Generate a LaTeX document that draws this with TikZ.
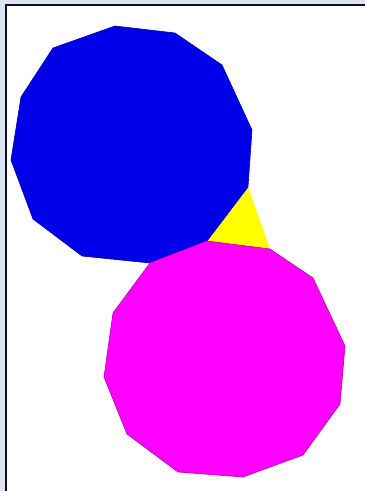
\documentclass[tikz,border=0pt]{standalone}
\usepackage{tikz}
\definecolor{frameBg}{HTML}{DCE4EF}
\definecolor{frameLine}{HTML}{110C2A}
\definecolor{dodBlue}{RGB}{0,0,232}
\definecolor{dodPink}{RGB}{255,0,255}
\definecolor{triYellow}{RGB}{255,255,0}

\begin{document}
\begin{tikzpicture}[
  x=1pt,y=-1pt,
  bluedod/.style={fill=dodBlue,draw=dodBlue!75!black,line width=0.6pt,line join=round},
  pinkdod/.style={fill=dodPink,draw=dodPink!70!black,line width=0.6pt,line join=round},
  tri/.style={fill=triYellow,draw=none},
  frameedge/.style={draw=frameLine,line width=2pt},
]
  \useasboundingbox (0,0) rectangle (365,491);
  % page frame
  \fill[frameBg] (0,0) rectangle (365,491);
  \fill[white] (6,5) rectangle (365,491);
  \draw[frameedge] (6,491) -- (6,5) -- (365,5);

  % shared vertex and triangle corners
  \coordinate (p) at (207,241);
  \coordinate (ta) at (248,187);
  \coordinate (tb) at (270,249);
  \coordinate (tc) at (150,263);

  % yellow triangle
  \fill[tri] (p) -- (ta) -- (tb) -- cycle;

  % blue dodecagon
  \draw[bluedod] (115,26) -- (175,33) -- (222,65) -- (252,130) -- (ta)
    -- (p) -- (tc) -- (82,256) -- (33,219) -- (11,160) -- (21,97)
    -- (53,48) -- cycle;

  % magenta dodecagon
  \draw[pinkdod] (p) -- (tb) -- (313,278) -- (345,346) -- (340,404)
    -- (303,455) -- (243,477) -- (178,472) -- (127,434) -- (104,377)
    -- (113,313) -- (tc) -- cycle;
\end{tikzpicture}
\end{document}
